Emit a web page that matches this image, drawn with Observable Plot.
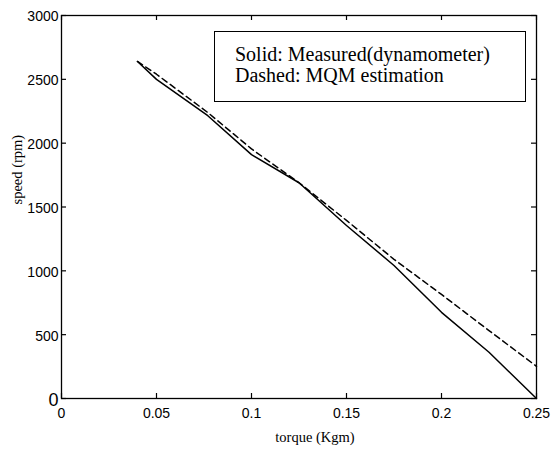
<!DOCTYPE html>
<html>
<head>
<meta charset="utf-8">
<script src="https://cdn.jsdelivr.net/npm/d3@7"></script>
<script src="https://cdn.jsdelivr.net/npm/@observablehq/plot@0.6"></script>
<style>
  html, body { margin: 0; padding: 0; background: white; }
  #wrap { position: relative; width: 551px; height: 449px; }
  #legend {
    position: absolute; left: 214px; top: 31px; width: 312px; height: 71px;
    border: 1.6px solid black; background: white;
    font-family: "Liberation Serif", "Times New Roman", serif; font-size: 20px;
    line-height: 21.5px; padding: 11.7px 0 0 20px; box-sizing: border-box; color: black;
    white-space: nowrap;
  }
</style>
</head>
<body>
<div id="wrap"><div id="legend"></div></div>
<script>
const torque = [0.04, 0.05, 0.077, 0.1, 0.125, 0.15, 0.175, 0.2, 0.225, 0.25];
const measured = [2640, 2500, 2215, 1910, 1690, 1355, 1042, 675, 362, 0];
const estimated = [2640, 2540, 2240, 1955, 1690, 1395, 1090, 815, 532, 252];
const xTicks = [0, 0.05, 0.1, 0.15, 0.2, 0.25];
const yTicks = [0, 500, 1000, 1500, 2000, 2500, 3000];
const legendLines = ["Solid: Measured(dynamometer)", "Dashed: MQM estimation"];
const xLabel = "torque (Kgm)";
const yLabel = "speed (rpm)";

const sans = "'Liberation Sans', Arial, Helvetica, sans-serif";
const serif = "'Liberation Serif', 'Times New Roman', serif";

const rows = torque.map((t, i) => ({t, m: measured[i], e: estimated[i]}));

// frame inner size: 551-61-15 = 475 wide, 449-15-51 = 383 tall; ticks 5px inward
const chart = Plot.plot({
  width: 551,
  height: 449,
  marginLeft: 61,
  marginRight: 15,
  marginTop: 15,
  marginBottom: 51,
  style: {background: "white", color: "black", fontFamily: sans},
  x: {domain: [0, 0.25]},
  y: {domain: [0, 3000]},
  marks: [
    Plot.line(rows, {x: "t", y: "m", stroke: "black", strokeWidth: 1.5}),
    Plot.line(rows, {x: "t", y: "e", stroke: "black", strokeWidth: 1.5, strokeDasharray: "6,4"}),
    Plot.ruleX(xTicks, {x: d => d, insetTop: 378, stroke: "black", strokeWidth: 1.2}),
    Plot.ruleX(xTicks, {x: d => d, insetBottom: 378, stroke: "black", strokeWidth: 1.2}),
    Plot.ruleY(yTicks, {y: d => d, insetRight: 470, stroke: "black", strokeWidth: 1.2}),
    Plot.ruleY(yTicks, {y: d => d, insetLeft: 470, stroke: "black", strokeWidth: 1.2}),
    Plot.frame({stroke: "black", strokeWidth: 1.3}),
    Plot.axisX(xTicks, {anchor: "bottom", tickSize: 0, tickPadding: 10, fontSize: 14, fontFamily: sans, fill: "black", tickFormat: d => String(d), label: null}),
    Plot.axisY(yTicks.filter(d => d !== 0), {anchor: "left", tickSize: 0, tickPadding: 3, fontSize: 14, fontFamily: sans, fill: "black", dy: 1.5, tickFormat: d => String(d), label: null}),
    Plot.axisY(yTicks.filter(d => d === 0), {anchor: "left", tickSize: 0, tickPadding: 3, fontSize: 18, fontFamily: sans, fill: "black", dy: 1.7, tickFormat: d => String(d), label: null}),
    Plot.text([xLabel], {frameAnchor: "bottom", text: d => d, dx: 16, dy: 43.7, lineAnchor: "bottom", fontSize: 14.5, fontFamily: serif, fill: "black"}),
    Plot.text([yLabel], {frameAnchor: "left", text: d => d, dx: -44.5, dy: -2.5, rotate: -90, lineAnchor: "middle", fontSize: 14.5, fontFamily: serif, fill: "black"})
  ]
});

const wrap = document.getElementById("wrap");
wrap.insertBefore(chart, wrap.firstChild);
const legend = document.getElementById("legend");
legend.innerHTML = legendLines.map(s => `<div>${s}</div>`).join("");
</script>
</body>
</html>
